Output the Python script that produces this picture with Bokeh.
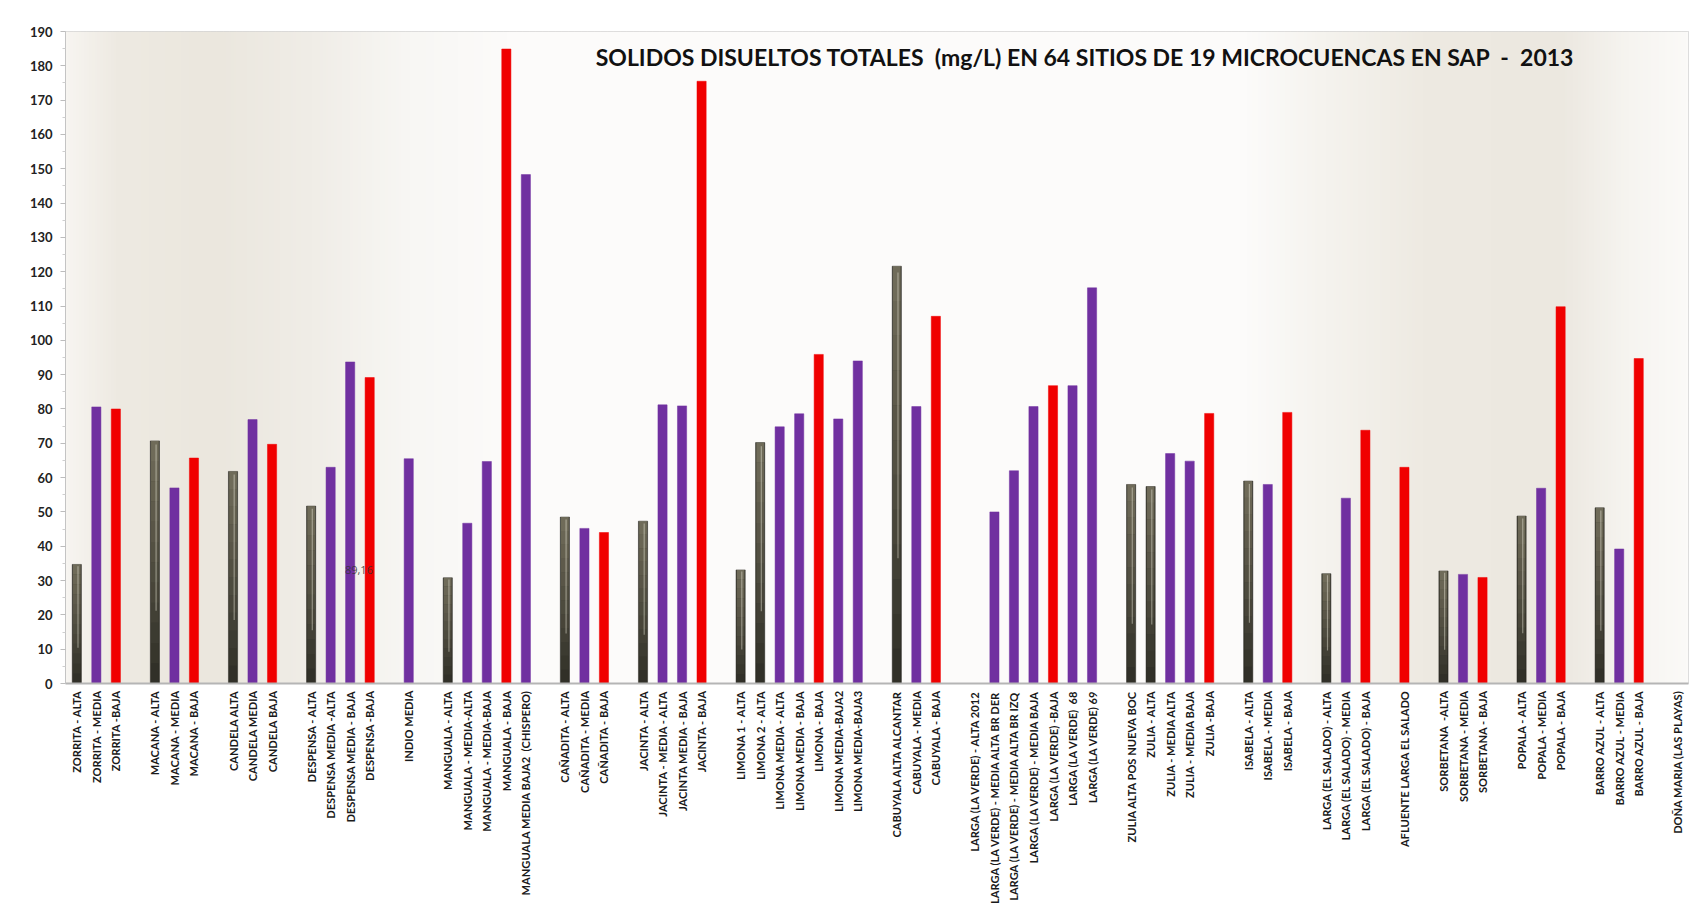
import numpy as np
from bokeh.plotting import figure
from bokeh.models import ColumnDataSource, FixedTicker, Range1d, Label
from bokeh.embed import file_html
from bokeh.resources import INLINE

NB = "\u00a0"
# "" marks an empty separator slot between micro-basins
sites = [
    "ZORRITA - ALTA", "ZORRITA - MEDIA", "ZORRITA -BAJA", "",
    "MACANA - ALTA", "MACANA - MEDIA", "MACANA - BAJA", "",
    "CANDELA ALTA", "CANDELA MEDIA", "CANDELA BAJA", "",
    "DESPENSA - ALTA", "DESPENSA MEDIA -ALTA", "DESPENSA MEDIA - BAJA", "DESPENSA -BAJA", "",
    "INDIO MEDIA", "",
    "MANGUALA - ALTA", "MANGUALA - MEDIA-ALTA", "MANGUALA - MEDIA-BAJA", "MANGUALA - BAJA",
    "MANGUALA MEDIA BAJA2 " + NB + "(CHISPERO)", "",
    "CAÑADITA - ALTA", "CAÑADITA - MEDIA", "CAÑADITA - BAJA", "",
    "JACINTA - ALTA", "JACINTA - MEDIA - ALTA", "JACINTA MEDIA - BAJA", "JACINTA - BAJA", "",
    "LIMONA 1 - ALTA", "LIMONA 2 - ALTA", "LIMONA MEDIA - ALTA", "LIMONA MEDIA - BAJA", "LIMONA - BAJA",
    "LIMONA MEDIA-BAJA2", "LIMONA MEDIA-BAJA3", "",
    "CABUYALA ALTA ALCANTAR", "CABUYALA - MEDIA", "CABUYALA - BAJA", "",
    "LARGA (LA VERDE) - ALTA 2012", "LARGA (LA VERDE) - MEDIA ALTA BR DER",
    "LARGA (LA VERDE) - MEDIA ALTA BR IZQ", "LARGA (LA VERDE) - MEDIA BAJA", "LARGA (LA VERDE) -BAJA",
    "LARGA (LA VERDE) " + NB + "68", "LARGA (LA VERDE) 69", "",
    "ZULIA ALTA POS NUEVA BOC", "ZULIA - ALTA", "ZULIA - MEDIA ALTA", "ZULIA - MEDIA BAJA", "ZULIA -BAJA", "",
    "ISABELA - ALTA", "ISABELA - MEDIA", "ISABELA - BAJA", "",
    "LARGA (EL SALADO) - ALTA", "LARGA (EL SALADO) - MEDIA", "LARGA (EL SALADO) - BAJA", "",
    "AFLUENTE LARGA EL SALADO", "",
    "SORBETANA " + NB + "-ALTA", "SORBETANA - MEDIA", "SORBETANA - BAJA", "",
    "POPALA - ALTA", "POPALA - MEDIA", "POPALA - BAJA", "",
    "BARRO AZUL - ALTA", "BARRO AZUL - MEDIA", "BARRO AZUL - BAJA", "",
    "DOÑA MARIA (LAS PLAYAS)",
]

# total dissolved solids (mg/L); None for separator slots
tds = [
    34.7, 80.6, 80.0, None,
    70.7, 57.0, 65.7, None,
    61.8, 76.9, 69.7, None,
    51.7, 63.0, 93.7, 89.16, None,
    65.5, None,
    30.8, 46.7, 64.7, 184.9, 148.3, None,
    48.5, 45.2, 44.0, None,
    47.3, 81.2, 80.9, 175.5, None,
    33.1, 70.2, 74.8, 78.6, 95.9, 77.1, 94.0, None,
    121.6, 80.7, 107.0, None,
    0.0, 50.0, 62.0, 80.7, 86.8, 86.8, 115.3, None,
    58.0, 57.4, 67.0, 64.8, 78.7, None,
    59.0, 58.0, 79.0, None,
    32.0, 54.0, 73.8, None,
    63.0, None,
    32.8, 31.8, 30.9, None,
    48.8, 56.9, 109.8, None,
    51.2, 39.2, 94.7, None,
    0.0,
]

# zone of the site: A = alta, M = media, B = baja
zone = [
    "A", "M", "B", None,
    "A", "M", "B", None,
    "A", "M", "B", None,
    "A", "M", "M", "B", None,
    "M", None,
    "A", "M", "M", "B", "M", None,
    "A", "M", "B", None,
    "A", "M", "M", "B", None,
    "A", "A", "M", "M", "B", "M", "M", None,
    "A", "M", "B", None,
    "A", "M", "M", "M", "B", "M", "M", None,
    "A", "A", "M", "M", "B", None,
    "A", "M", "B", None,
    "A", "M", "B", None,
    "B", None,
    "A", "M", "B", None,
    "A", "M", "B", None,
    "A", "M", "B", None,
    "M",
]

title_text = ("SOLIDOS DISUELTOS TOTALES " + NB + "(mg/L) EN 64 SITIOS DE 19 MICROCUENCAS EN SAP "
              + NB + "- " + NB + "2013")
stray_label = "89,16"
y_ticks = list(range(0, 191, 10))

FONT = "Lato"
zone_colors = {"A": "#2c2b24", "M": "#7030a0", "B": "#f00000"}

n = len(sites)
xs = list(range(n))
tick_pos = [i for i in xs if sites[i] != ""]
overrides = {i: sites[i] for i in tick_pos}

X0, X1 = -0.58, n - 1 + 0.55
p = figure(width=1692, height=906, output_backend="svg", toolbar_location=None,
           x_range=Range1d(X0, X1), y_range=Range1d(0, 190),
           min_border_left=65, min_border_right=4, min_border_top=31, min_border_bottom=221)
p.background_fill_color = "#fbfaf8"
p.border_fill_color = "white"
p.outline_line_color = "#d4d4d4"

# background gradient (style only)
N = 600
gx = np.linspace(X0, X1, N)
stops_x = [X0, 2, 7, 12, 17, 22, 60, 64, 69, 76, 79.5, X1]
stops_c = [(247, 245, 241), (238, 234, 226), (235, 231, 222), (240, 237, 231), (248, 247, 244),
           (252, 251, 250), (252, 251, 250), (245, 243, 238), (238, 234, 226), (236, 232, 224),
           (246, 244, 240), (251, 250, 248)]
img = np.empty((1, N), dtype=np.uint32)
view = img.view(dtype=np.uint8).reshape((1, N, 4))
for ch in range(3):
    view[0, :, ch] = np.interp(gx, stops_x, [c[ch] for c in stops_c]).astype(np.uint8)
view[0, :, 3] = 255
p.image_rgba(image=[img], x=X0, y=0, dw=X1 - X0, dh=190)

# axes / grids
p.yaxis.ticker = FixedTicker(ticks=y_ticks, minor_ticks=[v + 5 for v in y_ticks[:-1]])
p.yaxis.major_label_text_font = FONT
p.yaxis.major_label_text_font_style = "bold"
p.yaxis.major_label_text_font_size = "13px"
p.yaxis.major_label_text_color = "#222222"
p.yaxis.axis_line_color = "#c4c4c4"
p.yaxis.major_tick_line_color = "#bdbdbd"
p.yaxis.minor_tick_line_color = "#cfcfcf"
p.yaxis.major_tick_out = 5
p.yaxis.major_tick_in = 0
p.yaxis.minor_tick_out = 3
p.yaxis.minor_tick_in = 0
p.yaxis.major_label_standoff = 8

p.xaxis.ticker = FixedTicker(ticks=tick_pos, minor_ticks=list(np.arange(-0.5, n, 1 / 3)))
p.xaxis.major_label_overrides = overrides
p.xaxis.major_label_orientation = np.pi / 2
p.xaxis.major_label_text_font = FONT
p.xaxis.major_label_text_font_style = "bold"
p.xaxis.major_label_text_font_size = "11.1px"
p.xaxis.major_label_text_color = "#1a1a1a"
p.xaxis.axis_line_color = "#b5b5b5"
p.xaxis.axis_line_width = 2
p.xaxis.major_tick_line_color = None
p.xaxis.minor_tick_line_color = None
p.xaxis.major_tick_out = 0
p.xaxis.major_tick_in = 0
p.xaxis.major_label_standoff = 3

p.ygrid.grid_line_color = "#c9c9c9"
p.ygrid.grid_line_width = 1.3
p.xgrid.grid_line_color = None
p.xgrid.minor_grid_line_color = "#e3e0d8"
p.xgrid.minor_grid_line_alpha = 0.9

# bars
for z, col in zone_colors.items():
    bx = [i for i in xs if zone[i] == z and tds[i]]
    by = [tds[i] for i in bx]
    src = ColumnDataSource(dict(x=bx, top=by))
    p.vbar(x="x", top="top", bottom=0, width=0.47, source=src,
           fill_color=col, line_color=col, line_width=0.5)
    if z == "A":
        # cylinder-like shading on the dark bars (lighter toward the top)
        K = 12
        for k in range(K):
            f0, f1 = k / K, (k + 1) / K
            p.vbar(x=bx, bottom=[v * f0 for v in by], top=[v * f1 for v in by], width=0.40,
                   fill_color="#a8a286", fill_alpha=0.045 * (k + 1), line_color=None)
        p.vbar(x=[v + 0.06 for v in bx], bottom=[v * 0.3 for v in by], top=[v * 0.985 for v in by],
               width=0.06, fill_color="#eeebdc", fill_alpha=0.45, line_color=None)

p.add_layout(Label(x=51.65, y=182.7, text=title_text, text_font=FONT, text_font_style="bold",
                   text_font_size="23px", text_align="center", text_baseline="middle",
                   text_color="#111111"))
p.add_layout(Label(x=14.45, y=33.0, text=stray_label, text_font="Open Sans",
                   text_font_size="11px", text_align="center", text_baseline="middle",
                   text_color="#333333", text_alpha=0.85))

open("out.html", "w").write(file_html(p, INLINE))
